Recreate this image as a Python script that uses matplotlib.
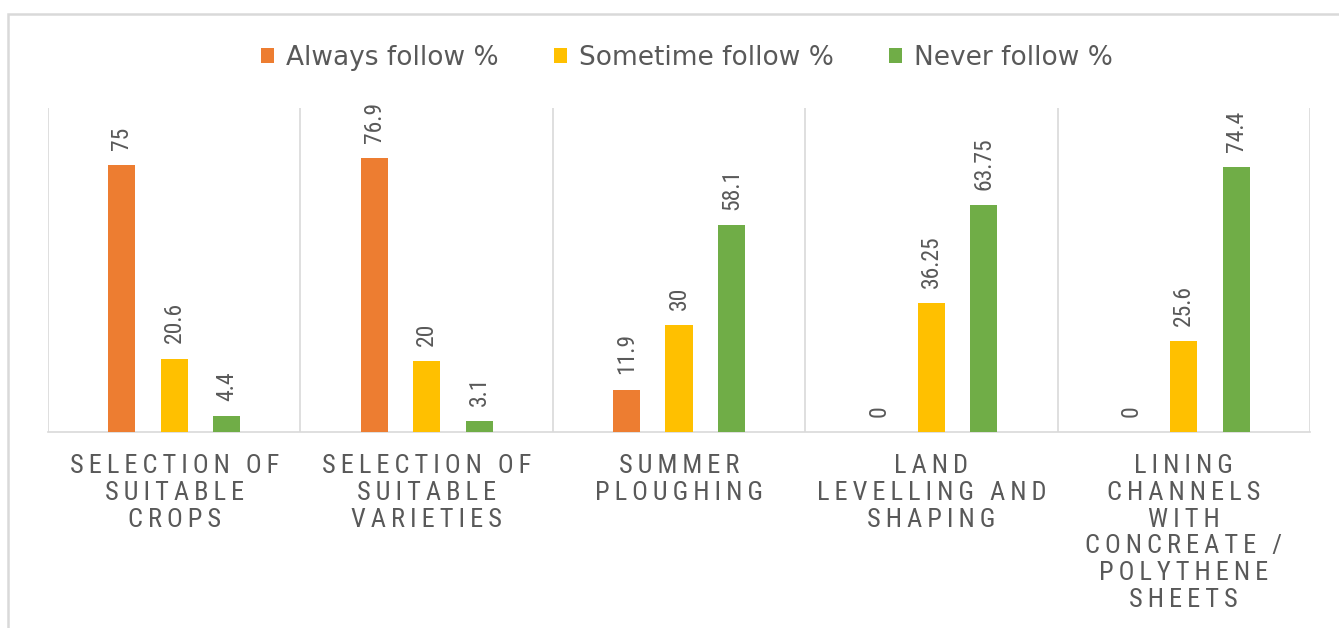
import matplotlib
matplotlib.use("Agg")
import matplotlib.pyplot as plt
from matplotlib import font_manager
from matplotlib.patches import Rectangle
import numpy as np

categories = ["SELECTION OF\nSUITABLE\nCROPS",
              "SELECTION OF\nSUITABLE\nVARIETIES",
              "SUMMER\nPLOUGHING",
              "LAND\nLEVELLING AND\nSHAPING",
              "LINING\nCHANNELS\nWITH\nCONCREATE /\nPOLYTHENE\nSHEETS"]
series_names = ["Always follow %", "Sometime follow %", "Never follow %"]
always = [75, 76.9, 11.9, 0, 0]
sometime = [20.6, 20, 30, 36.25, 25.6]
never = [4.4, 3.1, 58.1, 63.75, 74.4]
value_text = [["75", "76.9", "11.9", "0", "0"],
              ["20.6", "20", "30", "36.25", "25.6"],
              ["4.4", "3.1", "58.1", "63.75", "74.4"]]
colors = ["#ED7D31", "#FFC000", "#70AD47"]
text_col = "#595959"
grid_col = "#d9d9d9"

# pick a narrow font if one is there
installed = {f.name for f in font_manager.fontManager.ttflist}
narrow = "DejaVu Sans"
for cand in ["Liberation Sans Narrow", "DejaVu Sans Condensed", "Roboto Condensed"]:
    if cand in installed:
        narrow = cand
        break


def spaced(s):
    # wide letter spacing like the original axis labels
    return "\n".join("\u2009".join(line) for line in s.split("\n"))


fig = plt.figure(figsize=(13.39, 6.28), dpi=100)
ax = fig.add_axes([48 / 1339, 1 - 432 / 628, (1310 - 48) / 1339, (432 - 108) / 628])

x = np.arange(len(categories))
offsets = [-0.208, 0.0, 0.208]
width = 0.107
data = [always, sometime, never]
for i, vals in enumerate(data):
    bars = ax.bar(x + offsets[i], vals, width, color=colors[i], label=series_names[i], zorder=3)
    for b, v, t in zip(bars, vals, value_text[i]):
        ax.annotate(t, (b.get_x() + b.get_width() / 2, v), xytext=(0, 11),
                    textcoords="offset points", rotation=90, ha="center", va="bottom",
                    fontsize=17, color=text_col, family=narrow)

ax.set_xlim(-0.5, len(categories) - 0.5)
ax.set_ylim(0, 91)
ax.set_yticks([])
for xb in np.arange(-0.5, len(categories), 1.0):
    ax.axvline(xb, color=grid_col, lw=1.2, zorder=1)
for s in ["top", "left", "right"]:
    ax.spines[s].set_visible(False)
ax.spines["bottom"].set_color(grid_col)
ax.spines["bottom"].set_linewidth(1.2)
ax.set_xticks(x)
ax.set_xticklabels([spaced(c) for c in categories], fontsize=19, color=text_col,
                   linespacing=1.14, family=narrow)
ax.tick_params(axis="x", length=0, pad=16)

fig.legend(loc="center", bbox_to_anchor=(687 / 1339, 1 - 58 / 628), ncol=3, frameon=False,
           fontsize=19, labelcolor=text_col, handlelength=0.5, handleheight=0.5,
           handletextpad=0.45, columnspacing=2.1)

fig.patches.append(Rectangle((8 / 1339, -0.1), 1.2, 0.1 + 1 - 14 / 628, transform=fig.transFigure,
                             fill=False, edgecolor=grid_col, lw=1.8))

fig.savefig("out.png", dpi=100)
